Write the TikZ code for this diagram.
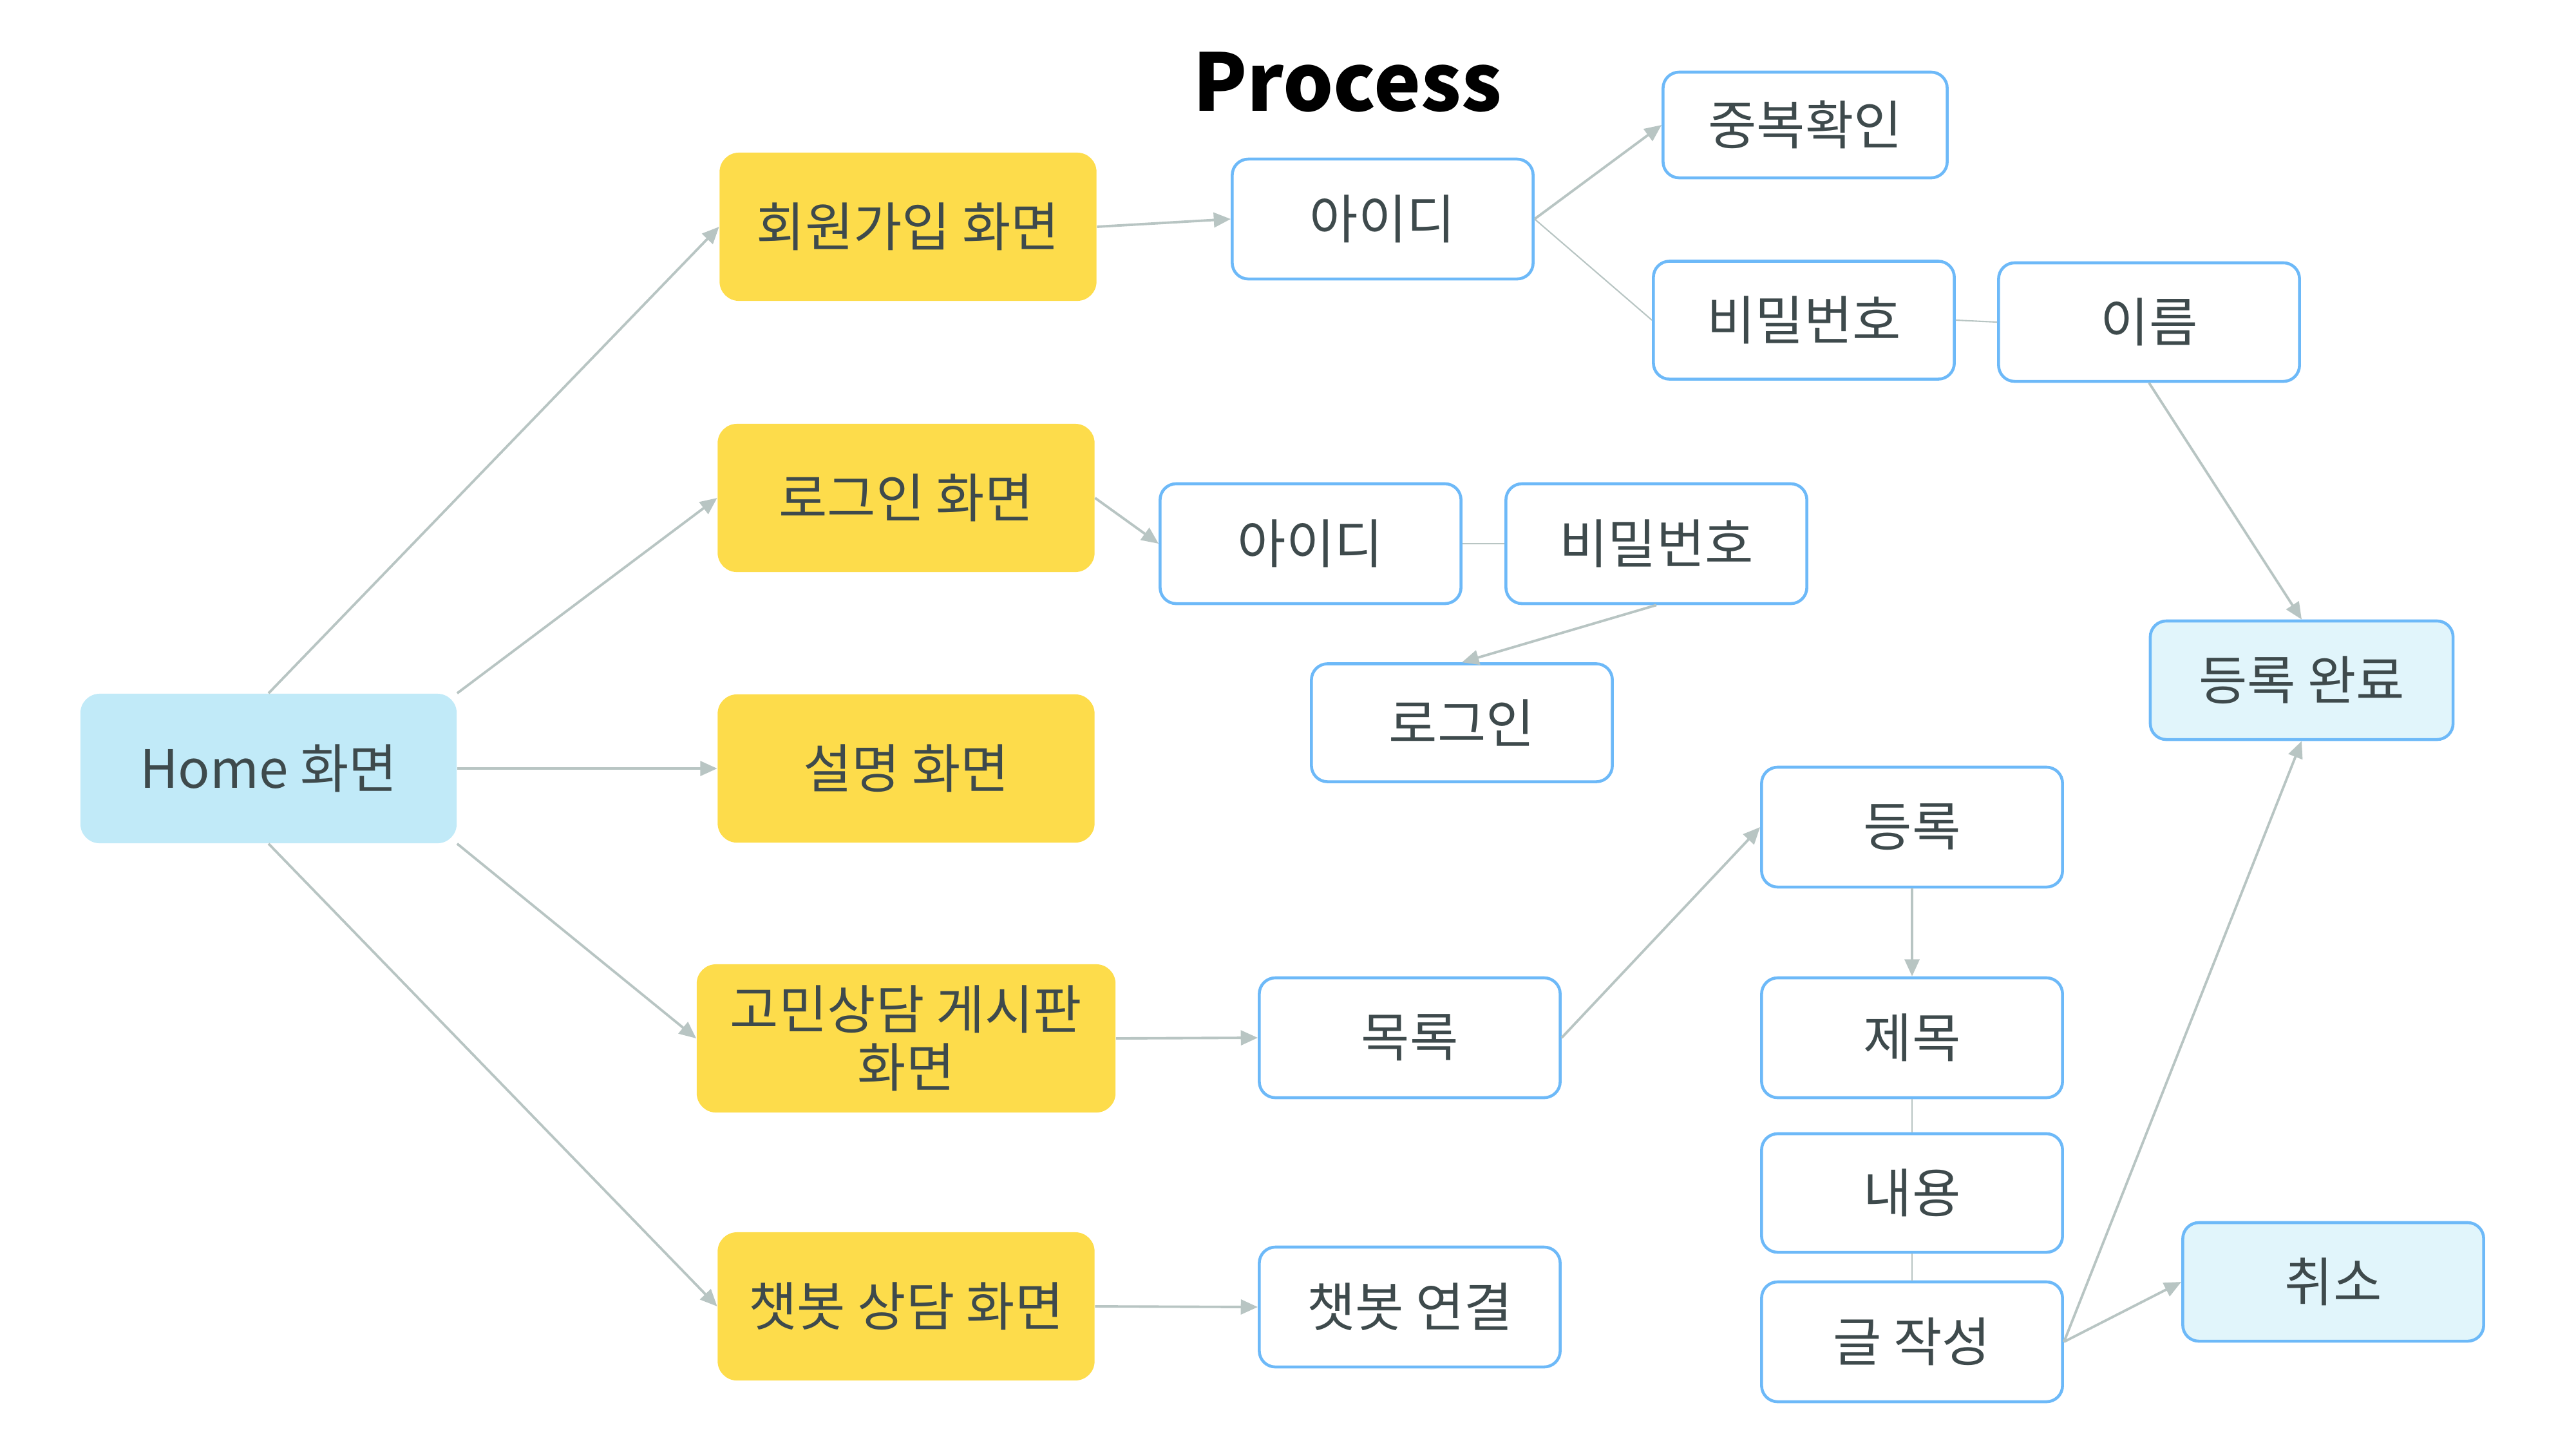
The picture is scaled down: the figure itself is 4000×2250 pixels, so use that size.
\documentclass[tikz,border=0pt]{standalone}
\usepackage{fontspec}
\setmainfont{Noto Sans CJK KR}
\usetikzlibrary{arrows.meta}
\definecolor{yelC}{HTML}{FDDC4B}
\definecolor{homeC}{HTML}{C1EAF8}
\definecolor{lightC}{HTML}{E1F5FB}
\definecolor{blueC}{HTML}{6DB9F8}
\definecolor{lineC}{HTML}{B8C5C3}
\definecolor{txtC}{HTML}{3E4A4C}
\tikzset{
  base/.style={inner sep=0pt, align=center, text=txtC, font=\fontsize{23.3pt}{25.5pt}\selectfont},
  yel/.style={base, fill=yelC, rounded corners=0.3cm, minimum width=5.85cm, minimum height=2.3cm},
  homebox/.style={base, fill=homeC, rounded corners=0.3cm, minimum width=5.84cm, minimum height=2.32cm},
  wbox/.style={base, draw=blueC, line width=1.3pt, fill=white, rounded corners=0.25cm, minimum width=4.67cm, minimum height=1.86cm},
  lbox/.style={wbox, fill=lightC},
  arr/.style={draw=lineC, line width=1.1pt, -{Triangle[length=7.5pt,width=6.5pt]}},
  thinline/.style={draw=lineC, line width=0.6pt},
}
\begin{document}
\begin{tikzpicture}[x=0.01cm,y=-0.01cm]
\useasboundingbox (0,0) rectangle (4000,2250);
\node[font=\fontsize{35pt}{38pt}\bfseries\selectfont, text=black, anchor=base, inner sep=0pt] (title) at (2092,172) {Process};

\node[homebox] (home) at (417,1193) {Home 화면};
\node[yel] (join) at (1410,352) {회원가입 화면};
\node[yel] (loginS) at (1407,773) {로그인 화면};
\node[yel] (desc) at (1407,1193) {설명 화면};
\node[yel, minimum width=6.5cm] (board) at (1407,1612) {고민상담 게시판\\화면};
\node[yel] (chat) at (1407,2028) {챗봇 상담 화면};

\node[wbox] (id1) at (2147,340) {아이디};
\node[wbox, minimum width=4.41cm, minimum height=1.64cm] (dup) at (2803,194) {중복확인};
\node[wbox, minimum height=1.83cm] (pw1) at (2801,497) {비밀번호};
\node[wbox, minimum height=1.84cm] (name) at (3337,500) {이름};
\node[lbox, minimum width=4.7cm, minimum height=1.84cm] (done) at (3574,1056) {등록 완료};

\node[wbox] (id2) at (2035,844) {아이디};
\node[wbox] (pw2) at (2572,844) {비밀번호};
\node[wbox, minimum height=1.83cm] (login) at (2270,1122) {로그인};

\node[wbox] (list) at (2189,1611) {목록};
\node[wbox] (reg) at (2969,1284) {등록};
\node[wbox] (ttl) at (2969,1611) {제목};
\node[wbox, minimum height=1.84cm] (cont) at (2969,1852) {내용};
\node[wbox] (write) at (2969,2083) {글 작성};
\node[lbox, minimum height=1.84cm] (cancel) at (3623,1990) {취소};
\node[wbox] (chatc) at (2189,2029) {챗봇 연결};

\draw[arr] (home.north) -- (join.west);
\draw[arr] (home.north east) -- (loginS.west);
\draw[arr] (home.east) -- (desc.west);
\draw[arr] (home.south east) -- (board.west);
\draw[arr] (home.south) -- (chat.west);

\draw[arr] (join.east) -- (id1.west);
\draw[arr] (id1.east) -- (dup.west);
\draw[thinline] (id1.east) -- (pw1.west);
\draw[thinline] (pw1.east) -- (name.west);
\draw[arr] (name.south) -- (done.north);

\draw[arr] (loginS.east) -- (id2.west);
\draw[thinline] (id2.east) -- (pw2.west);
\draw[arr] (pw2.south) -- (login.north);

\draw[arr] (board.east) -- (list.west);
\draw[arr] (list.east) -- (reg.west);
\draw[arr] (reg.south) -- (ttl.north);
\draw[thinline] (ttl.south) -- (cont.north);
\draw[thinline] (cont.south) -- (write.north);
\draw[arr] (write.east) -- (done.south);
\draw[arr] (write.east) -- (cancel.west);

\draw[arr] (chat.east) -- (chatc.west);
\end{tikzpicture}
\end{document}
